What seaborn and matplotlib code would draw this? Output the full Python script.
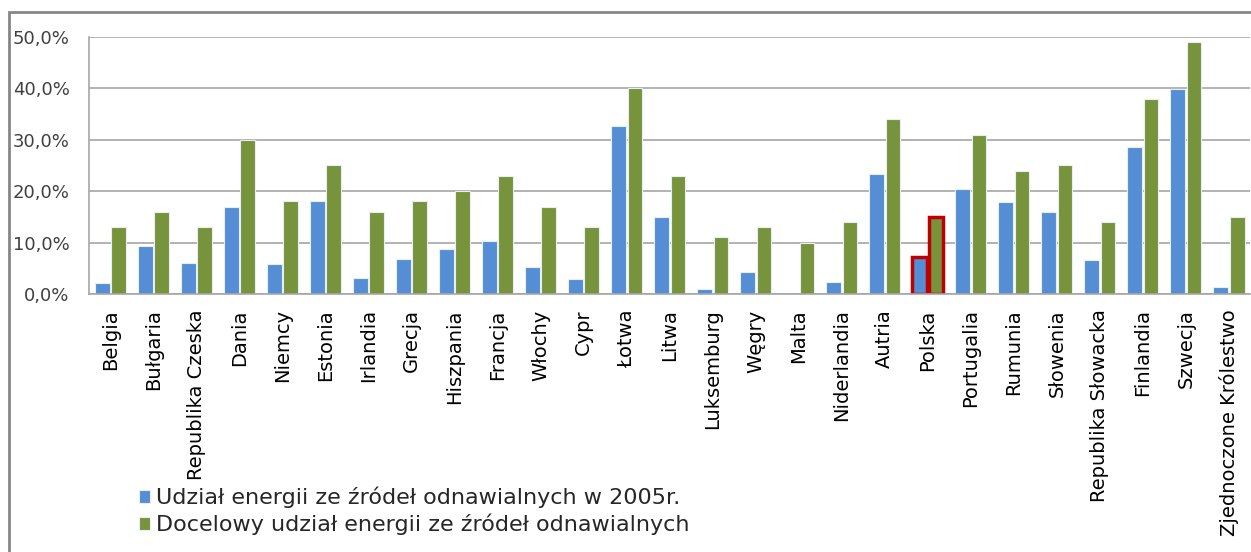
import pandas as pd
import seaborn as sns
import matplotlib.pyplot as plt
from matplotlib.patches import Rectangle
from matplotlib.ticker import FuncFormatter

# country names as on the axis
KRAJE = ["Belgia", "Bułgaria", "Republika Czeska", "Dania", "Niemcy",
         "Estonia", "Irlandia", "Grecja", "Hiszpania", "Francja", "Włochy",
         "Cypr", "Łotwa", "Litwa", "Luksemburg", "Węgry", "Malta",
         "Niderlandia", "Autria", "Polska", "Portugalia", "Rumunia",
         "Słowenia", "Republika Słowacka", "Finlandia", "Szwecja",
         "Zjednoczone Królestwo"]

# share of renewables in 2005 (%)
UDZIAL_2005 = [2.2, 9.4, 6.1, 17.0, 5.8, 18.0, 3.1, 6.9, 8.7, 10.3, 5.2,
               2.9, 32.6, 15.0, 0.9, 4.3, 0.0, 2.4, 23.3, 7.2, 20.5, 17.8,
               16.0, 6.7, 28.5, 39.8, 1.3]

# target share (%)
UDZIAL_CEL = [13, 16, 13, 30, 18, 25, 16, 18, 20, 23, 17, 13, 40, 23, 11,
              13, 10, 14, 34, 15, 31, 24, 25, 14, 38, 49, 15]

SERIE = ["Udział energii ze źródeł odnawialnych w 2005r.",
         "Docelowy udział energii ze źródeł odnawialnych"]

NIEBIESKI = "#558ED5"
ZIELONY = "#77933C"
SZARY = "#A6A6A6"


def main():

    # long form table for seaborn
    df = pd.DataFrame({
        "kraj": KRAJE * 2,
        "wartosc": UDZIAL_2005 + UDZIAL_CEL,
        "seria": [SERIE[0]] * len(KRAJE) + [SERIE[1]] * len(KRAJE)})

    sns.set_style("white")
    plt.rcParams["font.family"] = ["DejaVu Sans"]

    fig = plt.figure(figsize=(12.51, 5.52), dpi=100)
    ax = fig.add_axes([0.0711, 0.4674, 0.9285, 0.4656])

    sns.barplot(data=df, x="kraj", y="wartosc", hue="seria",
                palette=[NIEBIESKI, ZIELONY], saturation=1, width=0.76,
                gap=0.1, edgecolor="#E6EEF6", linewidth=0.8, ax=ax)

    # highlight Polska
    idx = KRAJE.index("Polska")
    for cont in ax.containers:
        bar = cont.patches[idx]
        bar.set_edgecolor("#C00000")
        bar.set_linewidth(2.5)

    ax.set_ylim(0, 50)
    ax.set_xlim(-0.5, len(KRAJE) - 0.5)
    ax.set_yticks([0, 10, 20, 30, 40, 50])
    ax.yaxis.set_major_formatter(
        FuncFormatter(lambda v, p: f"{v:.1f}%".replace(".", ",")))
    ax.grid(axis="y", color=SZARY, linewidth=1.2)
    ax.set_axisbelow(True)
    ax.set_xlabel("")
    ax.set_ylabel("")

    for side in ["top", "right"]:
        ax.spines[side].set_visible(False)
    for side in ["left", "bottom"]:
        ax.spines[side].set_color(SZARY)
        ax.spines[side].set_linewidth(1.2)

    ax.tick_params(axis="y", length=0, pad=14, labelsize=13,
                   labelcolor="#404040")
    ax.tick_params(axis="x", length=0, pad=11, labelsize=14,
                   labelrotation=90, labelcolor="black")

    # legend below the labels
    handles, labels = ax.get_legend_handles_labels()
    ax.legend_.remove()
    fig.legend(handles, labels, loc="upper left",
               bbox_to_anchor=(0.104, 0.134), frameon=False,
               fontsize=16, handlelength=0.5, handleheight=0.5,
               handletextpad=0.25, labelspacing=0.25, borderaxespad=0)

    # outer chart frame
    fig.patches.append(Rectangle((9 / 1251, -0.1), 1.2, 0.1 + 1 - 12 / 552,
                                 transform=fig.transFigure, fill=False,
                                 edgecolor="#868686", linewidth=2))

    fig.savefig("out.png", dpi=100)


if __name__ == "__main__":
    main()
